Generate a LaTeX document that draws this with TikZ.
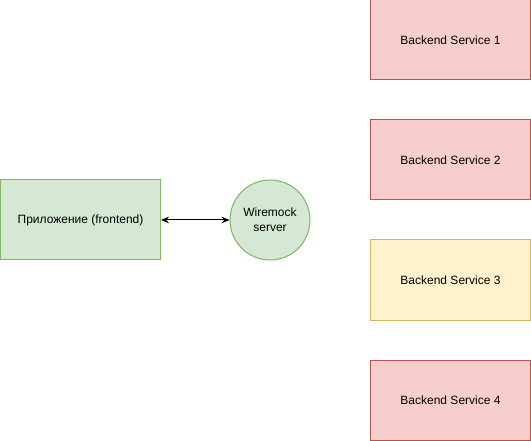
\documentclass[tikz,border=0pt]{standalone}
\usepackage{fontspec}
\setmainfont{Liberation Sans}
\usetikzlibrary{positioning, arrows.meta}
\definecolor{redfill}{HTML}{F8CECC}
\definecolor{redline}{HTML}{B85450}
\definecolor{yelfill}{HTML}{FFF2CC}
\definecolor{yelline}{HTML}{D6B656}
\definecolor{grnfill}{HTML}{D5E8D4}
\definecolor{grnline}{HTML}{82B366}
\tikzset{
	box/.style={rectangle, draw, line width=0.75pt, minimum width=120pt, minimum height=60pt, inner sep=0, font=\fontsize{9}{11}\selectfont},
	blob/.style={circle, draw=grnline, fill=grnfill, line width=0.75pt, minimum size=60pt, inner sep=0, align=center, font=\fontsize{9}{11}\selectfont}
}
\begin{document}
\begin{tikzpicture}[x=0.75pt, y=-0.75pt]
	\useasboundingbox (0,0) rectangle (531,441);
	\foreach \y/\n/\f/\l in {40/1/redfill/redline,160/2/redfill/redline,280/3/yelfill/yelline,400/4/redfill/redline} {
		\node[box, draw=\l, fill=\f] at(450.5, \y) (bs\n) {Backend Service \n};
	};
	\node[box, draw=grnline, fill=grnfill] at(80.5, 220) (app) {Приложение (frontend)};
	\node[blob] at(270, 220) (wm) {Wiremock\\server};
	\draw[line width=0.75pt, {Stealth[length=6pt,width=5pt]}-{Stealth[length=6pt,width=5pt]}] (app.east) -- (wm.west);
\end{tikzpicture}
\end{document}
